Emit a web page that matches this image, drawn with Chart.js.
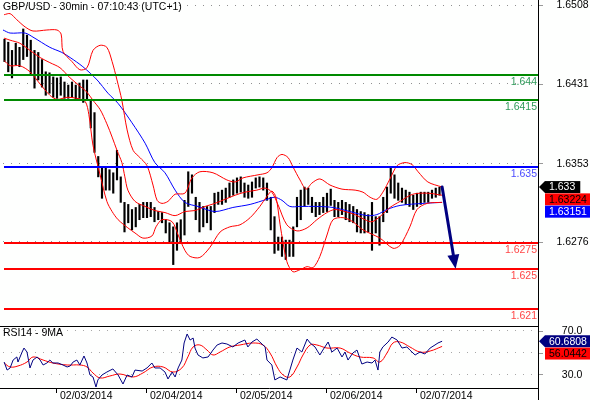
<!DOCTYPE html>
<html>
<head>
<meta charset="utf-8">
<script src="https://cdn.jsdelivr.net/npm/chart.js@4.4.0/dist/chart.umd.min.js"></script>
<style>
  body { margin: 0; background: #fefffe; }
  #wrap { position: relative; width: 590px; height: 400px; overflow: hidden; }
  #price { position: absolute; left: 0; top: 0; }
  #rsi { position: absolute; left: 0; top: 320px; }
</style>
</head>
<body>
<div id="wrap">
  <canvas id="price" width="590" height="326"></canvas>
  <canvas id="rsi" width="590" height="80"></canvas>
</div>
<script>
const titleText = 'GBP/USD - 30min - 07:10:43 (UTC+1)';
const rsiTitle = 'RSI14 - 9MA';

// hourly bars, x = hours from 02/03/2014 00:00
const firstBarHour = -14;
const barHigh = [
  1.6475,1.6472,1.6464,1.6471,1.6467,1.6485,1.6479,1.6474,1.6464,1.6462,
  1.6455,1.6443,1.6442,1.6438,1.6437,1.6438,1.6433,1.6430,1.6433,1.6430,
  1.6432,1.6435,1.6435,1.6415,1.6403,1.6360,1.6350,1.6349,1.6347,1.6344,
  1.6366,1.6340,1.6315,1.6313,1.6308,1.6310,1.6313,1.6315,1.6315,1.6315,
  1.6310,1.6306,1.6305,1.6298,1.6295,1.6291,1.6295,1.6298,1.6317,1.6345,
  1.6342,1.6320,1.6315,1.6311,1.6311,1.6311,1.6324,1.6325,1.6327,1.6329,
  1.6334,1.6337,1.6339,1.6340,1.6334,1.6332,1.6335,1.6339,1.6340,1.6339,
  1.6334,1.6320,1.6301,1.6281,1.6281,1.6278,1.6278,1.6291,1.6320,1.6327,
  1.6330,1.6329,1.6320,1.6315,1.6315,1.6320,1.6324,1.6328,1.6317,1.6315,
  1.6317,1.6315,1.6313,1.6311,1.6308,1.6306,1.6305,1.6303,1.6315,1.6301,
  1.6301,1.6320,1.6330,1.6349,1.6342,1.6334,1.6329,1.6327,1.6325,1.6322,
  1.6324,1.6325,1.6325,1.6325,1.6327,1.6329,1.6330
];
const barLow = [
  1.6453,1.6443,1.6437,1.6450,1.6448,1.6455,1.6458,1.6440,1.6427,1.6435,
  1.6428,1.6420,1.6422,1.6418,1.6417,1.6420,1.6417,1.6417,1.6418,1.6415,
  1.6417,1.6413,1.6415,1.6388,1.6364,1.6340,1.6319,1.6327,1.6327,1.6324,
  1.6337,1.6315,1.6286,1.6295,1.6288,1.6291,1.6298,1.6300,1.6300,1.6301,
  1.6296,1.6298,1.6295,1.6285,1.6275,1.6254,1.6268,1.6275,1.6283,1.6311,
  1.6324,1.6298,1.6286,1.6291,1.6295,1.6288,1.6305,1.6313,1.6313,1.6315,
  1.6320,1.6322,1.6324,1.6325,1.6320,1.6319,1.6320,1.6329,1.6330,1.6327,
  1.6317,1.6288,1.6265,1.6268,1.6262,1.6259,1.6262,1.6262,1.6291,1.6298,
  1.6311,1.6313,1.6305,1.6301,1.6303,1.6305,1.6306,1.6312,1.6301,1.6301,
  1.6303,1.6298,1.6296,1.6295,1.6286,1.6285,1.6285,1.6286,1.6268,1.6285,
  1.6273,1.6296,1.6305,1.6324,1.6319,1.6317,1.6315,1.6313,1.6311,1.6308,
  1.6311,1.6313,1.6315,1.6315,1.6319,1.6320,1.6322
];

// bollinger bands (red) and slow average (blue), read at sample hours
const upperHours = [-14.1,-12.5,-10.7,-8.5,-6.4,-2.7,0,1.1,1.6,4,6.1,8,9.6,11.5,13.3,14.7,16,17.3,18.7,20.3,22.1,24,25.6,26.7,28,29.6,31.5,34.1,36,38.1,41.6,45.3,47.5,49.6,53.6,56,57.3,58.7,60,61.6,62.9,64.8,66.4,68,70.1,72.8,76,79.5,81.6,83.5,85.3,86.9,88.8,90.7,92.8,94.7,96.3,98.9,102.7];
const upperBand = [1.6499,1.6500,1.6494,1.6487,1.6483,1.6484,1.6484,1.6480,1.6463,1.6453,1.6445,1.6447,1.6464,1.6469,1.6467,1.6453,1.6435,1.6415,1.6386,1.6366,1.6359,1.6351,1.6332,1.6317,1.6314,1.6316,1.6323,1.6324,1.6339,1.6345,1.6344,1.6337,1.6335,1.6339,1.6342,1.6344,1.6349,1.6359,1.6362,1.6359,1.6350,1.6337,1.6328,1.6334,1.6338,1.6332,1.6328,1.6327,1.6325,1.6320,1.6318,1.6325,1.6338,1.6351,1.6354,1.6352,1.6345,1.6335,1.6330];
const middleHours = [-14.1,-12.5,-9.9,-7.2,-4.5,-1.9,0.8,3.5,6.1,8,9.6,11.5,13.3,14.7,16,17.3,18.1,18.9,20.8,23.5,26.1,28.8,31.5,34.1,36.8,39.5,42.1,44.8,47.5,50.1,53.3,55.5,57.3,58.9,61.3,64,66.7,69.3,72,74.1,76.8,79.5,82.1,84,86.1,88.8,91.5,94.9,98.9,102.7];
const middleBand = [1.6476,1.6474,1.6471,1.6464,1.6457,1.6452,1.6447,1.6437,1.6429,1.6423,1.6415,1.6406,1.6392,1.6379,1.6366,1.6354,1.6340,1.6327,1.6316,1.6311,1.6307,1.6305,1.6302,1.6306,1.6307,1.6311,1.6314,1.6318,1.6322,1.6325,1.6327,1.6329,1.6325,1.6313,1.6293,1.6287,1.6290,1.6298,1.6305,1.6308,1.6306,1.6303,1.6298,1.6296,1.6301,1.6310,1.6316,1.6323,1.6324,1.6322];
const lowerHours = [-14.1,-12.5,-9.9,-7.2,-4.5,-1.9,0,2.7,5.3,7.5,8.5,9.6,11.5,13.3,14.7,16.3,18.9,20.8,22.9,25.3,26.4,28,30.7,32.3,34.1,35.5,38.1,40.8,43.5,46.1,48.8,51.5,54.1,56,57.3,58.4,59.5,61.3,62.9,64.8,66.7,68.3,70.1,72,73.6,76.3,78.9,81.6,86.1,89.6,91.5,94.1,96,98.7,102.7];
const lowerBand = [1.6454,1.6449,1.6449,1.6443,1.6431,1.6420,1.6416,1.6418,1.6417,1.6414,1.6401,1.6371,1.6342,1.6316,1.6306,1.6298,1.6290,1.6285,1.6280,1.6282,1.6291,1.6298,1.6296,1.6283,1.6268,1.6262,1.6261,1.6271,1.6286,1.6291,1.6293,1.6300,1.6311,1.6321,1.6326,1.6320,1.6293,1.6257,1.6247,1.6249,1.6252,1.6251,1.6262,1.6283,1.6298,1.6300,1.6296,1.6288,1.6280,1.6270,1.6273,1.6291,1.6308,1.6314,1.6315];
const maHours = [-14.4,-12.5,-8.5,-6.4,-1.9,1.3,3.5,6.9,10.7,13.6,16.3,20,23.5,26.1,28.8,31.5,34.1,37.6,42.1,46.9,51.5,56,58.1,60,62.1,64.8,69.3,73.6,78.1,82.7,85.3,88,91.5,97.6,102.7];
const maLine = [1.6484,1.6481,1.6481,1.6477,1.6467,1.6462,1.6457,1.6448,1.6435,1.6422,1.6412,1.6393,1.6373,1.6354,1.6344,1.6327,1.6315,1.6311,1.6306,1.6310,1.6313,1.6318,1.6320,1.6317,1.6311,1.6311,1.6311,1.6310,1.6306,1.6302,1.6303,1.6308,1.6312,1.6314,1.6315];

// RSI panel
const rsiHours = [-14.1,-13.3,-12.5,-11.7,-10.7,-10.4,-9.3,-8.8,-8,-7.2,-6.4,-5.3,-4.5,-3.7,-2.7,-1.9,-1.1,0.3,1.6,2.7,3.5,4.3,5.3,6.1,7.2,8,8.8,9.6,10.4,10.9,12,13.3,14.9,16.3,17.6,18.7,20,20.8,22.7,24,25.3,26.1,27.5,28.8,29.6,30.7,31.5,32.3,33.3,33.9,34.7,35.5,36.3,36.8,37.6,38.9,40.3,41.6,42.7,44,45.3,46.9,48.3,50.1,50.9,52,53.3,54.1,55.5,56,57.3,58.1,59.5,61.3,62.1,62.9,64,65.3,66.7,67.5,68.8,70.1,70.9,72.3,73.3,74.7,76,76.8,77.6,78.9,80,81.3,82.7,84,84.8,85.6,86.1,86.9,88.3,89.3,90.7,92,93.3,94.1,95.5,96.8,98.1,99.5,100.8,101.6,102.7];
const rsiLine = [41.8,34.5,36.4,43.6,46.4,41.8,50.9,54.5,50.9,36.4,43.6,46.4,43.6,39.1,40.9,43.6,40.9,40.9,39.1,37.3,38.2,41.8,43.6,39.1,47.3,40.9,30,28.2,19.1,25.5,30,32.7,35.5,30,21.8,30,28.2,34.5,33.6,36.4,40.9,36.4,36.4,32.7,26.4,32.7,28.2,36.4,43.6,59.1,67.3,61.8,63.6,54.5,48.2,45.5,46.4,52.7,57.3,59.1,58.2,55.5,59.1,61.8,55.5,60,62.7,60,55.5,43.6,39.1,25.5,28.2,25.5,34.5,43.6,54.5,50.9,62.7,59.1,55.5,48.2,52.7,60,50.9,54.5,46.4,50.9,43.6,50,52.7,40,41.8,40.9,43.6,34.5,50.9,55.5,60,64.5,61.8,54.5,55.5,52.7,48.2,50.9,49.1,54.5,57.3,59.1,60.7];
const rsiMaHours = [-14.1,-12.5,-10.4,-8,-6.4,-3.7,-1.1,2.7,6.1,8,9.6,11.5,14.1,16.8,20.3,22.9,25.6,28.3,30.9,33.3,34.9,36.3,38.1,40,41.6,43.5,46.1,48.8,52.3,54.9,56.8,58.7,60.3,62.1,64,65.6,67.5,69.3,72,75.5,78.1,80.8,84.3,86.1,88,89.6,91.5,94.1,96.8,99.5,102.7];
const rsiMa = [40.9,37.3,38.2,41.8,46.4,43.6,40.9,39.1,39.1,37.3,31.8,27.3,29.1,30.9,28.2,31.8,37.3,37.3,32.7,36.4,46.4,55.5,57.3,52.7,48.2,50.9,55.5,57.3,59.1,57.3,50,37.3,30,28.2,37.3,48.2,57.3,57.3,54.5,54.5,50,46.4,45.5,41.8,50,59.1,60,55.5,50.9,51.8,56];

const priceTicks = [1.6508, 1.6431, 1.6353, 1.6276];
const rsiTicks = [70, 50, 30];
const rsiTickLabels = ['70.0', '', '30.0'];
const dayHours = [0, 24, 48, 72, 96];
const dayLabels = ['02/03/2014', '02/04/2014', '02/05/2014', '02/06/2014', '02/07/2014'];

const levels = [1.644, 1.6415, 1.635, 1.6275, 1.625, 1.621];
const levelColors = ['#008a00', '#008a00', '#0000ff', '#ff0000', '#ff0000', '#ff0000'];
const levelTextColors = ['#2f9a5a', '#2f9a5a', '#4a4aff', '#ff4646', '#ff4646', '#ff4646'];

const priceTags = [1.633, 1.63224, 1.63151];
const priceTagStyles = [['#000000', '#ffffff', true], ['#ff0000', '#000000', false], ['#0000ff', '#ffffff', false]];
const rsiTags = ['60.6808', '56.0442'];
const rsiTagStyles = [['#000080', '#ffffff', true], ['#ff0000', '#000000', false]];

const arrowFrom = [102.7, 1.6330];
const arrowTo = [106.3, 1.6250];

const xMin = -15.2, xMax = 128.27;
const priceMin = 1.61938, priceMax = 1.65134;
const rsiMin = 18.18, rsiMax = 74.55;

const FONT = '"Liberation Sans", Arial, sans-serif';
Chart.defaults.font.family = FONT;
Chart.defaults.font.size = 10.5;
Chart.defaults.color = '#000';

function pts(xs, ys) {
  return xs.map((x, i) => ({ x: x, y: ys[i] }));
}

function lineSet(xs, ys, color, order, tension, width) {
  return {
    type: 'line', data: pts(xs, ys), borderColor: color, borderWidth: width || 1,
    pointRadius: 0, tension: tension, order: order, fill: false
  };
}

// dotted horizontal grid at the y-axis ticks
function drawDots(chart, color) {
  const { ctx, chartArea: a } = chart;
  const y = chart.scales.y;
  ctx.save();
  ctx.globalAlpha = 1;
  ctx.globalCompositeOperation = 'source-over';
  ctx.strokeStyle = color;
  ctx.lineWidth = 1;
  ctx.setLineDash([1, 7]);
  y.ticks.forEach(t => {
    const py = Math.round(y.getPixelForValue(t.value)) - 0.5;
    ctx.beginPath();
    ctx.moveTo(a.left + 3, py);
    ctx.lineTo(a.right - 2, py);
    ctx.stroke();
  });
  ctx.restore();
}

function drawTags(ctx, scale, values, texts, styles, left) {
  let prev = -1e9;
  ctx.font = '10.5px ' + FONT;
  ctx.textBaseline = 'middle';
  ctx.textAlign = 'left';
  values.forEach((v, i) => {
    const cy = Math.max(scale.getPixelForValue(v), prev + 12.3);
    prev = cy;
    const [bg, fg, arrow] = styles[i];
    const w = ctx.measureText(texts[i]).width + 9;
    ctx.fillStyle = bg;
    ctx.fillRect(left + 6, cy - 6, w, 12);
    if (arrow) {
      ctx.beginPath();
      ctx.moveTo(left, cy);
      ctx.lineTo(left + 6, cy - 6);
      ctx.lineTo(left + 6, cy + 6);
      ctx.closePath();
      ctx.fill();
    }
    ctx.fillStyle = fg;
    ctx.fillText(texts[i], left + 10, cy + 0.5);
  });
}

const priceDecor = {
  id: 'priceDecor',
  beforeDatasetsDraw(chart) {
    drawDots(chart, '#909090');
  },
  afterDatasetsDraw(chart) {
    const { ctx, chartArea: a, scales: { x, y } } = chart;
    ctx.save();
    ctx.font = '10.5px ' + FONT;
    levels.forEach((v, i) => {
      const py = Math.round(y.getPixelForValue(v));
      ctx.strokeStyle = levelColors[i];
      ctx.lineWidth = 2;
      ctx.beginPath();
      ctx.moveTo(a.left + 4, py);
      ctx.lineTo(a.right, py);
      ctx.stroke();
      ctx.fillStyle = levelTextColors[i];
      ctx.textAlign = 'right';
      ctx.textBaseline = 'middle';
      ctx.fillText(String(v), a.right - 1, py + 7);
    });

    // forecast arrow
    const x0 = x.getPixelForValue(arrowFrom[0]), y0 = y.getPixelForValue(arrowFrom[1]);
    const x1 = x.getPixelForValue(arrowTo[0]), y1 = y.getPixelForValue(arrowTo[1]);
    const ang = Math.atan2(y1 - y0, x1 - x0);
    const head = 14, half = 6;
    const bx = x1 - head * Math.cos(ang), by = y1 - head * Math.sin(ang);
    ctx.strokeStyle = '#000080';
    ctx.fillStyle = '#000080';
    ctx.lineWidth = 3;
    ctx.lineCap = 'round';
    ctx.beginPath();
    ctx.moveTo(x0, y0);
    ctx.lineTo(bx, by);
    ctx.stroke();
    ctx.beginPath();
    ctx.moveTo(x1, y1);
    ctx.lineTo(bx + half * Math.sin(ang), by - half * Math.cos(ang));
    ctx.lineTo(bx - half * Math.sin(ang), by + half * Math.cos(ang));
    ctx.closePath();
    ctx.fill();
    ctx.restore();
  },
  afterDraw(chart) {
    const { ctx, chartArea: a, scales: { y } } = chart;
    ctx.save();
    ctx.font = '10.5px ' + FONT;
    ctx.fillStyle = '#000';
    ctx.textAlign = 'left';
    ctx.textBaseline = 'middle';
    ctx.fillText(titleText, 3, 7);
    drawTags(ctx, y, priceTags, priceTags.map(String), priceTagStyles, a.right + 1);
    ctx.restore();
  }
};

const rsiDecor = {
  id: 'rsiDecor',
  beforeDatasetsDraw(chart) {
    drawDots(chart, '#a8a8a8');
  },
  afterDraw(chart) {
    const { ctx, chartArea: a, scales: { y } } = chart;
    ctx.save();
    ctx.strokeStyle = '#000';
    ctx.lineWidth = 1;
    ctx.beginPath();
    ctx.moveTo(0, a.top + 0.5);
    ctx.lineTo(a.right, a.top + 0.5);
    ctx.moveTo(a.right + 0.5, a.top);
    ctx.lineTo(a.right + 0.5, chart.height);
    ctx.stroke();
    ctx.font = '10.5px ' + FONT;
    ctx.fillStyle = '#000';
    ctx.textAlign = 'left';
    ctx.textBaseline = 'middle';
    ctx.fillText(rsiTitle, 3, a.top + 7.5);
    drawTags(ctx, y, rsiTags.map(Number), rsiTags, rsiTagStyles, a.right + 1);
    ctx.restore();
  }
};

const common = {
  responsive: false,
  animation: false,
  devicePixelRatio: 1,
  events: [],
  plugins: { legend: { display: false }, tooltip: { enabled: false } }
};

const yGrid = { drawOnChartArea: false, drawTicks: true, tickColor: '#999999', tickLength: 5 };

new Chart(document.getElementById('price'), {
  type: 'line',
  data: {
    datasets: [
      lineSet(upperHours, upperBand, '#ff0000', 1, 0.3),
      lineSet(middleHours, middleBand, '#ff0000', 1, 0.3),
      lineSet(lowerHours, lowerBand, '#ff0000', 1, 0.3),
      lineSet(maHours, maLine, '#0000ff', 2, 0.3),
      {
        type: 'bar',
        data: barHigh.map((hi, i) => ({ x: firstBarHour + i, y: [barLow[i], hi] })),
        backgroundColor: '#000',
        barThickness: 1.5,
        order: 3
      }
    ]
  },
  options: Object.assign({}, common, {
    layout: { padding: 0 },
    scales: {
      x: { type: 'linear', min: xMin, max: xMax, display: false, offset: false, grid: { offset: false } },
      y: {
        type: 'linear', position: 'right', min: priceMin, max: priceMax,
        afterBuildTicks: s => { s.ticks = priceTicks.map(v => ({ value: v })); },
        afterFit: s => { s.width = 52; s.paddingTop = 0; s.paddingBottom = 0; },
        ticks: { callback: v => v.toFixed(4), crossAlign: 'center', padding: 13.5, color: '#000' },
        grid: yGrid,
        border: { display: true, color: '#000', width: 1 }
      }
    }
  }),
  plugins: [priceDecor]
});

new Chart(document.getElementById('rsi'), {
  type: 'line',
  data: {
    datasets: [
      lineSet(rsiHours, rsiLine, '#000080', 1, 0, 1),
      lineSet(rsiMaHours, rsiMa, '#ff0000', 2, 0.4)
    ]
  },
  options: Object.assign({}, common, {
    layout: { padding: { top: 6 } },
    scales: {
      x: {
        type: 'linear', position: 'bottom', min: xMin, max: xMax, offset: false,
        afterBuildTicks: s => { s.ticks = dayHours.map(v => ({ value: v })); },
        afterFit: s => { s.height = 12; s.paddingLeft = 0; s.paddingRight = 0; },
        ticks: {
          callback: (v, i) => dayLabels[i], align: 'start', labelOffset: 3, padding: -3,
          autoSkip: false, maxRotation: 0, color: '#000'
        },
        grid: { drawOnChartArea: false, drawTicks: true, tickLength: 5, tickColor: '#000', tickWidth: 1 },
        border: { display: true, color: '#000', width: 1 }
      },
      y: {
        type: 'linear', position: 'right', min: rsiMin, max: rsiMax,
        afterBuildTicks: s => { s.ticks = rsiTicks.map(v => ({ value: v })); },
        afterFit: s => { s.width = 52; s.paddingTop = 0; s.paddingBottom = 0; },
        ticks: { callback: (v, i) => rsiTickLabels[i], crossAlign: 'center', padding: 18.8, color: '#000' },
        grid: yGrid,
        border: { display: true, color: '#000', width: 1 }
      }
    }
  }),
  plugins: [rsiDecor]
});
</script>
</body>
</html>
